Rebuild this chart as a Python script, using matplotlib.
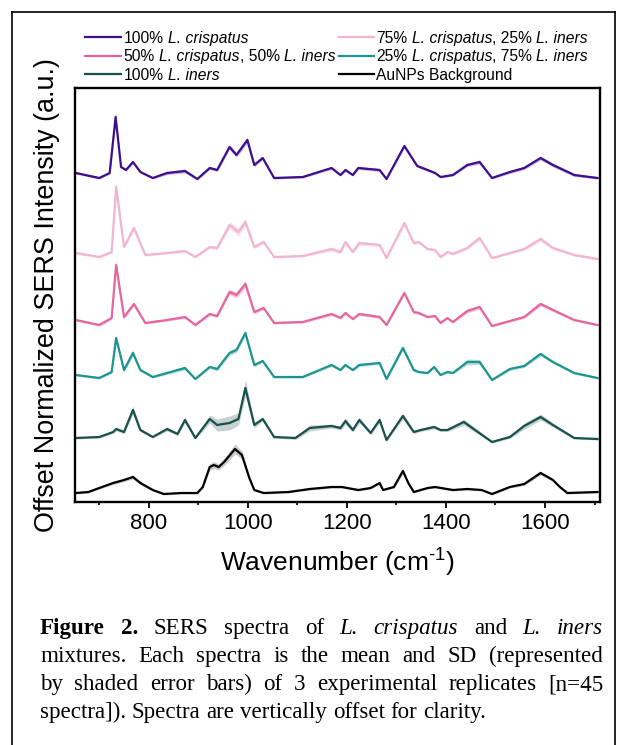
import matplotlib
matplotlib.use("Agg")
import matplotlib.pyplot as plt
from matplotlib.ticker import MultipleLocator
from matplotlib.lines import Line2D
import numpy as np

plt.rcParams['font.family'] = ['Liberation Sans', 'DejaVu Sans']
plt.rcParams['mathtext.fontset'] = 'custom'
plt.rcParams['mathtext.rm'] = 'Liberation Sans'
plt.rcParams['mathtext.it'] = 'Liberation Sans:italic'
plt.rcParams['mathtext.bf'] = 'Liberation Sans:bold'

# ---------------- data ----------------
labels = [[("100%", "n"), ("L. crispatus", "i")],
          [("75%", "n"), ("L. crispatus", "i"), (", 25%", "n0"), ("L. iners", "i")],
          [("50%", "n"), ("L. crispatus", "i"), (", 50%", "n0"), ("L. iners", "i")],
          [("25%", "n"), ("L. crispatus", "i"), (", 75%", "n0"), ("L. iners", "i")],
          [("100%", "n"), ("L. iners", "i")],
          [("AuNPs Background", "n")]]
offsets = [3.20, 2.42, 1.75, 1.20, 0.60, 0.07]

wn_c100 = [653, 700, 721, 733, 744, 754, 768, 783, 808, 837, 873, 898, 923, 938, 963, 977, 999, 1013, 1030, 1053,
           1111, 1169, 1187, 1197, 1212, 1223, 1266, 1280, 1316, 1342, 1363, 1378, 1389, 1414, 1443, 1468, 1493, 1529,
           1558, 1591, 1616, 1659, 1706]
int_c100 = [0.09, 0.04, 0.09, 0.65, 0.15, 0.12, 0.20, 0.10, 0.04, 0.09, 0.11, 0.03, 0.14, 0.12, 0.35, 0.27, 0.42, 0.17,
            0.24, 0.04, 0.05, 0.14, 0.07, 0.12, 0.07, 0.14, 0.12, 0.03, 0.36, 0.16, 0.12, 0.09, 0.05, 0.07, 0.17, 0.20,
            0.04, 0.10, 0.14, 0.24, 0.17, 0.07, 0.04]
sd_c100 = [0.01, 0.01, 0.01, 0.05, 0.015, 0.01, 0.015, 0.01, 0.01, 0.015, 0.02, 0.01, 0.015, 0.015, 0.025, 0.02, 0.03,
           0.02, 0.015, 0.01, 0.01, 0.015, 0.01, 0.015, 0.01, 0.015, 0.015, 0.01, 0.02, 0.015, 0.015, 0.01, 0.01, 0.01,
           0.015, 0.02, 0.01, 0.015, 0.015, 0.02, 0.02, 0.015, 0.01]

wn_c75 = [653, 700, 725, 734, 750, 770, 793, 837, 873, 894, 923, 938, 963, 981, 995, 1013, 1032, 1053, 1111, 1169,
          1187, 1197, 1212, 1225, 1266, 1280, 1316, 1335, 1345, 1363, 1378, 1389, 1403, 1414, 1443, 1468, 1493, 1529,
          1558, 1591, 1616, 1659, 1706]
int_c75 = [0.07, 0.03, 0.08, 0.73, 0.13, 0.32, 0.05, 0.07, 0.09, 0.03, 0.13, 0.12, 0.35, 0.28, 0.38, 0.13, 0.18, 0.03,
           0.04, 0.11, 0.08, 0.18, 0.08, 0.17, 0.15, 0.02, 0.37, 0.17, 0.18, 0.11, 0.10, 0.03, 0.08, 0.06, 0.12, 0.22,
           0.02, 0.07, 0.11, 0.21, 0.12, 0.05, 0.01]
sd_c75 = [0.01, 0.01, 0.015, 0.06, 0.015, 0.02, 0.01, 0.01, 0.015, 0.01, 0.015, 0.015, 0.035, 0.04, 0.035, 0.02, 0.015,
          0.01, 0.01, 0.02, 0.015, 0.025, 0.015, 0.02, 0.015, 0.01, 0.02, 0.015, 0.015, 0.01, 0.01, 0.01, 0.01, 0.01,
          0.015, 0.02, 0.01, 0.01, 0.015, 0.02, 0.015, 0.01, 0.01]

wn_c50 = [653, 700, 725, 734, 750, 770, 793, 837, 873, 894, 923, 938, 963, 977, 995, 1013, 1032, 1053, 1111, 1169,
          1187, 1197, 1212, 1225, 1266, 1280, 1316, 1335, 1345, 1363, 1378, 1389, 1403, 1414, 1443, 1468, 1493, 1529,
          1558, 1591, 1616, 1659, 1706]
int_c50 = [0.07, 0.02, 0.09, 0.62, 0.10, 0.23, 0.04, 0.07, 0.10, 0.02, 0.13, 0.11, 0.35, 0.32, 0.43, 0.15, 0.19, 0.04,
           0.05, 0.13, 0.09, 0.14, 0.08, 0.13, 0.10, 0.02, 0.34, 0.15, 0.14, 0.10, 0.11, 0.04, 0.09, 0.05, 0.16, 0.20,
           0.01, 0.06, 0.10, 0.23, 0.17, 0.07, 0.02]
sd_c50 = [0.01, 0.01, 0.015, 0.05, 0.015, 0.02, 0.01, 0.01, 0.015, 0.01, 0.015, 0.015, 0.025, 0.03, 0.035, 0.02, 0.015,
          0.01, 0.01, 0.015, 0.01, 0.015, 0.01, 0.015, 0.015, 0.01, 0.02, 0.015, 0.015, 0.01, 0.01, 0.01, 0.01, 0.01,
          0.02, 0.02, 0.01, 0.01, 0.015, 0.02, 0.015, 0.01, 0.01]

wn_c25 = [653, 700, 725, 734, 750, 768, 783, 808, 837, 873, 894, 923, 938, 963, 977, 995, 1013, 1030, 1053, 1111,
          1169, 1187, 1197, 1212, 1225, 1266, 1280, 1313, 1335, 1345, 1363, 1376, 1389, 1403, 1414, 1443, 1468, 1493,
          1529, 1558, 1591, 1616, 1659, 1706]
int_c25 = [0.07, 0.04, 0.10, 0.44, 0.12, 0.29, 0.12, 0.05, 0.09, 0.14, 0.03, 0.15, 0.13, 0.29, 0.32, 0.49, 0.17, 0.21,
           0.05, 0.05, 0.17, 0.12, 0.17, 0.12, 0.17, 0.19, 0.03, 0.34, 0.12, 0.10, 0.09, 0.15, 0.07, 0.10, 0.09, 0.20,
           0.20, 0.02, 0.13, 0.16, 0.28, 0.20, 0.09, 0.04]
sd_c25 = [0.01, 0.01, 0.015, 0.04, 0.015, 0.03, 0.015, 0.01, 0.015, 0.02, 0.01, 0.015, 0.02, 0.025, 0.025, 0.03, 0.02,
          0.015, 0.01, 0.01, 0.015, 0.01, 0.015, 0.01, 0.015, 0.015, 0.01, 0.025, 0.015, 0.01, 0.01, 0.015, 0.01, 0.01,
          0.01, 0.03, 0.025, 0.01, 0.015, 0.015, 0.02, 0.015, 0.01, 0.01]

wn_c0 = [653, 700, 728, 734, 750, 768, 783, 808, 837, 858, 873, 894, 923, 938, 963, 981, 995, 1013, 1030, 1053,
         1096, 1125, 1169, 1187, 1197, 1212, 1225, 1248, 1266, 1280, 1313, 1335, 1349, 1376, 1389, 1403, 1436, 1493,
         1529, 1558, 1591, 1616, 1659, 1706]
int_c0 = [0.04, 0.05, 0.10, 0.13, 0.10, 0.32, 0.12, 0.05, 0.13, 0.08, 0.22, 0.04, 0.23, 0.17, 0.19, 0.23, 0.54, 0.17,
          0.23, 0.05, 0.04, 0.14, 0.16, 0.14, 0.21, 0.12, 0.22, 0.09, 0.22, 0.02, 0.26, 0.10, 0.12, 0.15, 0.12, 0.12,
          0.20, 0.00, 0.05, 0.16, 0.25, 0.17, 0.04, 0.03]
sd_c0 = [0.01, 0.01, 0.015, 0.02, 0.015, 0.04, 0.015, 0.01, 0.02, 0.015, 0.03, 0.01, 0.04, 0.06, 0.07, 0.06, 0.08, 0.03,
         0.02, 0.01, 0.015, 0.03, 0.02, 0.02, 0.035, 0.02, 0.03, 0.015, 0.03, 0.01, 0.03, 0.015, 0.015, 0.02, 0.015,
         0.015, 0.03, 0.01, 0.015, 0.03, 0.03, 0.02, 0.01, 0.01]

wn_bg = [653, 678, 700, 728, 750, 768, 783, 808, 830, 866, 898, 909, 923, 931, 941, 952, 974, 988, 1003, 1013,
         1032, 1082, 1125, 1169, 1190, 1223, 1248, 1266, 1273, 1295, 1313, 1324, 1335, 1363, 1378, 1414, 1443, 1472,
         1493, 1529, 1558, 1591, 1616, 1630, 1645, 1706]
int_bg = [0.02, 0.03, 0.07, 0.12, 0.15, 0.18, 0.12, 0.05, 0.01, 0.02, 0.02, 0.08, 0.28, 0.30, 0.28, 0.33, 0.46, 0.40,
          0.17, 0.05, 0.02, 0.03, 0.06, 0.08, 0.08, 0.05, 0.07, 0.12, 0.05, 0.08, 0.24, 0.12, 0.03, 0.07, 0.08, 0.05,
          0.06, 0.05, 0.01, 0.08, 0.11, 0.22, 0.15, 0.08, 0.02, 0.03]
sd_bg = [0.01, 0.01, 0.01, 0.015, 0.015, 0.02, 0.015, 0.01, 0.01, 0.01, 0.01, 0.015, 0.03, 0.035, 0.03, 0.035, 0.05,
         0.04, 0.02, 0.01, 0.01, 0.01, 0.01, 0.01, 0.01, 0.01, 0.01, 0.015, 0.01, 0.01, 0.03, 0.015, 0.01, 0.01, 0.01,
         0.01, 0.01, 0.01, 0.01, 0.01, 0.015, 0.02, 0.015, 0.01, 0.01, 0.01]

xticks = [800, 1000, 1200, 1400, 1600]

caption_lines = [
    [("Figure", "bold"), ("2.", "bold"), ("SERS", "normal"), ("spectra", "normal"), ("of", "normal"),
     ("L.", "italic"), ("crispatus", "italic"), ("and", "normal"), ("L.", "italic"), ("iners", "italic")],
    [(w, "normal") for w in "mixtures. Each spectra is the mean and SD (represented".split()],
    [(w, "normal") for w in "by shaded error bars) of 3 experimental replicates [n=45".split()],
    [(w, "normal") for w in "spectra]). Spectra are vertically offset for clarity.".split()],
]

# ---------------- styles ----------------
line_colors = ["#3f0e8a", "#f3b4d0", "#e4669f", "#1c9590", "#1a504b", "#000000"]
band_colors = ["#b9a3dc", "#f8d6e6", "#f3b5d2", "#a9d6d3", "#b9c6c3", "#bdbdbd"]

W, H = 629, 745
fig = plt.figure(figsize=(W / 100, H / 100), dpi=100)
fig.patch.set_facecolor("white")
renderer = fig.canvas.get_renderer()


def fx(px):
    return px / W


def fy(py):
    return 1 - py / H


L, R, T, B = 75, 600, 88, 502
ax = fig.add_axes([fx(L), fy(B), (R - L) / W, (B - T) / H])

series = [(wn_c100, int_c100, sd_c100), (wn_c75, int_c75, sd_c75), (wn_c50, int_c50, sd_c50),
          (wn_c25, int_c25, sd_c25), (wn_c0, int_c0, sd_c0), (wn_bg, int_bg, sd_bg)]

for (x, y, s), off, lc, bc in zip(series, offsets, line_colors, band_colors):
    x = np.asarray(x, float)
    y = np.asarray(y, float) + off
    s = np.asarray(s, float)
    ax.fill_between(x, y - s, y + s, color=bc, alpha=0.8, lw=0, zorder=1)
    ax.plot(x, y, color=lc, lw=1.6, zorder=2)

ax.set_xlim(651, 1711)
ax.set_ylim(0, 4.14)
ax.set_xticks(xticks)
ax.xaxis.set_minor_locator(MultipleLocator(100))
ax.tick_params(axis='x', which='major', direction='out', length=4, width=1.3, labelsize=16, pad=4)
ax.tick_params(axis='x', which='minor', direction='out', length=2.5, width=1.2)
ax.tick_params(axis='y', left=False, labelleft=False)
for sp in ax.spines.values():
    sp.set_linewidth(1.7)

ax.set_xlabel(r"Wavenumber (cm$^{\text{-1}}$)", fontsize=19, labelpad=9)
ax.set_ylabel("Offset Normalized SERS Intensity (a.u.)", fontsize=19.4, labelpad=11)


def text_width(s, **kw):
    t = fig.text(0, 0, s, **kw)
    w = t.get_window_extent(renderer).width
    t.remove()
    return w


# legend, drawn by hand so that the italic parts keep normal spacing
leg_size = 11.25
leg_cols = [(85, 121, 123.5), (339, 374, 376)]
leg_rows = [37, 55.5, 74]
leg_pos = [(0, 0), (1, 0), (0, 1), (1, 1), (0, 2), (1, 2)]
space_w = text_width("x x", fontsize=leg_size) - text_width("xx", fontsize=leg_size)
cap_h = leg_size * 100 / 72 * 0.716
for lab, lc, (c, r) in zip(labels, line_colors, leg_pos):
    x0, x1, xt = leg_cols[c]
    yc = leg_rows[r]
    fig.add_artist(Line2D([fx(x0), fx(x1)], [fy(yc), fy(yc)], transform=fig.transFigure, color=lc, lw=1.6))
    xp = xt
    for k, (piece, st) in enumerate(lab):
        if k > 0 and st != "n0":
            xp += space_w
        kw = dict(fontsize=leg_size)
        if st == "i":
            kw['fontstyle'] = 'italic'
        t = fig.text(fx(xp), fy(yc + cap_h / 2), piece, va='baseline', ha='left', **kw)
        xp += t.get_window_extent(renderer).width

# outer frame (left, top, right)
fig.add_artist(Line2D([fx(12), fx(12)], [0, fy(12)], transform=fig.transFigure, color='black', lw=1.2))
fig.add_artist(Line2D([fx(12), fx(615)], [fy(12), fy(12)], transform=fig.transFigure, color='black', lw=1.2))
fig.add_artist(Line2D([fx(615), fx(615)], [0, fy(12)], transform=fig.transFigure, color='black', lw=1.2))

# caption, justified
cap_left, cap_right = 40, 603
baselines = [634, 662, 690, 718]
cap_size = 16.6
for li, (words, yb) in enumerate(zip(caption_lines, baselines)):
    texts = []
    widths = []
    for w, st in words:
        kw = dict(fontfamily='Liberation Serif', fontsize=cap_size, va='baseline', ha='left')
        if st == 'bold':
            kw['fontweight'] = 'bold'
        elif st == 'italic':
            kw['fontstyle'] = 'italic'
        t = fig.text(0, fy(yb), w, **kw)
        texts.append(t)
        widths.append(t.get_window_extent(renderer).width)
    if li < len(caption_lines) - 1:
        gap = (cap_right - cap_left - sum(widths)) / (len(words) - 1)
    else:
        gap = cap_size * 100 / 72 * 0.25
    xpos = cap_left
    for t, wdt in zip(texts, widths):
        t.set_x(fx(xpos))
        xpos += wdt + gap

fig.savefig("out.png", dpi=100, facecolor="white")
